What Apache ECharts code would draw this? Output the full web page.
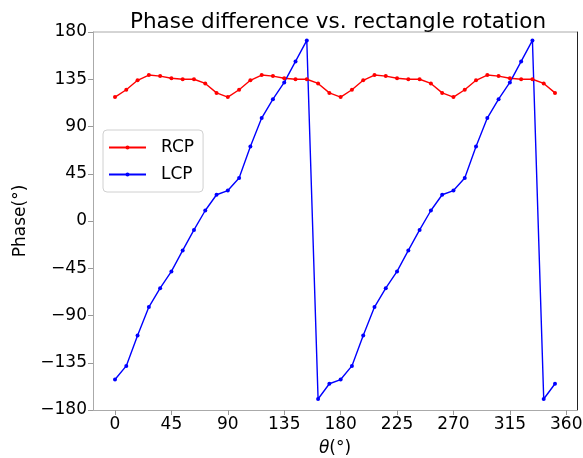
<!DOCTYPE html>
<html>
<head>
<meta charset="utf-8">
<script src="https://cdn.jsdelivr.net/npm/echarts@6/dist/echarts.min.js"></script>
<style>
  html, body { margin: 0; padding: 0; background: #fff; }
  #main { width: 583px; height: 458px; }
</style>
</head>
<body>
<div id="main"></div>
<script>
// rotation angle (deg)
var theta = [0, 9, 18, 27, 36, 45, 54, 63, 72, 81,
             90, 99, 108, 117, 126, 135, 144, 153, 162, 171,
             180, 189, 198, 207, 216, 225, 234, 243, 252, 261,
             270, 279, 288, 297, 306, 315, 324, 333, 342, 351];

var rcp = [118, 125, 134, 139, 138, 136, 135, 135, 131, 122,
           118, 125, 134, 139, 138, 136, 135, 135, 131, 122,
           118, 125, 134, 139, 138, 136, 135, 135, 131, 122,
           118, 125, 134, 139, 138, 136, 135, 135, 131, 122];

var lcp = [-151, -138, -109, -82, -64, -48, -28, -8.5, 10, 25,
           29, 41, 71, 98, 116, 132, 152, 172, -169.5, -155,
           -151, -138, -109, -82, -64, -48, -28, -8.5, 10, 25,
           29, 41, 71, 98, 116, 132, 152, 172, -169.5, -155];

var xTicks = [0, 45, 90, 135, 180, 225, 270, 315, 360];

function pairs(xs, ys) {
  return xs.map(function (x, i) { return [x, ys[i]]; });
}
function minus(v) {
  return String(v).replace('-', '\u2212');
}

var font = 'DejaVu Sans';
var chart = echarts.init(document.getElementById('main'));
chart.setOption({
  animation: false,
  backgroundColor: '#fff',
  title: {
    text: 'Phase difference vs. rectangle rotation',
    left: 333,
    textAlign: 'center',
    top: 6,
    textStyle: { fontFamily: font, fontSize: 21.5, fontWeight: 'normal', color: '#000' }
  },
  legend: {
    orient: 'vertical',
    left: 103,
    top: 130,
    padding: [9, 9, 9, 5],
    itemGap: 10,
    itemWidth: 37,
    itemHeight: 5,
    borderColor: '#d0d0d0',
    borderWidth: 1,
    borderRadius: 4,
    backgroundColor: 'rgba(255,255,255,0.8)',
    textStyle: { fontFamily: font, fontSize: 17, lineHeight: 14, color: '#000', padding: [0, 0, 0, 10] },
    data: ['RCP', 'LCP']
  },
  grid: { left: 93, right: 6, top: 32, bottom: 48, containLabel: false, outerBoundsMode: 'none' },
  xAxis: {
    type: 'value',
    min: -17.55,
    max: 368.55,
    name: '{i|θ}(°)',
    nameLocation: 'middle',
    nameGap: 30,
    nameTextStyle: {
      fontFamily: font, fontSize: 17, color: '#000',
      rich: { i: { fontFamily: font, fontSize: 17, fontStyle: 'italic', color: '#000' } }
    },
    splitLine: { show: false },
    axisLine: { onZero: false, lineStyle: { color: '#aaa', width: 1 } },
    axisTick: { show: true, length: 5, lineStyle: { color: '#999' }, customValues: xTicks },
    axisLabel: { fontFamily: font, fontSize: 17, color: '#000', margin: 6, customValues: xTicks,
      formatter: minus }
  },
  yAxis: [{
    type: 'value',
    min: -180,
    max: 180,
    interval: 45,
    name: 'Phase(°)',
    nameLocation: 'middle',
    nameGap: 56,
    nameTextStyle: { fontFamily: font, fontSize: 17, color: '#000' },
    splitLine: { show: false },
    axisLine: { show: true, onZero: false, lineStyle: { color: '#aaa', width: 1 } },
    axisTick: { show: true, length: 5, lineStyle: { color: '#999' } },
    axisLabel: { fontFamily: font, fontSize: 17, color: '#000', margin: 6, formatter: minus }
  }, {
    type: 'value',
    position: 'right',
    min: -180,
    max: 180,
    interval: 45,
    splitLine: { show: false },
    axisLine: { show: true, onZero: false, lineStyle: { color: '#222', width: 1 } },
    axisTick: { show: false },
    axisLabel: { show: false }
  }],
  graphic: [{
    type: 'line',
    shape: { x1: 93, y1: 32, x2: 577, y2: 32 },
    style: { stroke: '#aaa', lineWidth: 1 },
    z: 0
  }],
  series: [{
    name: 'RCP',
    type: 'line',
    data: pairs(theta, rcp),
    symbol: 'circle',
    symbolSize: 4,
    lineStyle: { color: '#ff0000', width: 1.4 },
    itemStyle: { color: '#ff0000' }
  }, {
    name: 'LCP',
    type: 'line',
    data: pairs(theta, lcp),
    symbol: 'circle',
    symbolSize: 4,
    lineStyle: { color: '#0000ff', width: 1.4 },
    itemStyle: { color: '#0000ff' }
  }]
});
</script>
</body>
</html>
